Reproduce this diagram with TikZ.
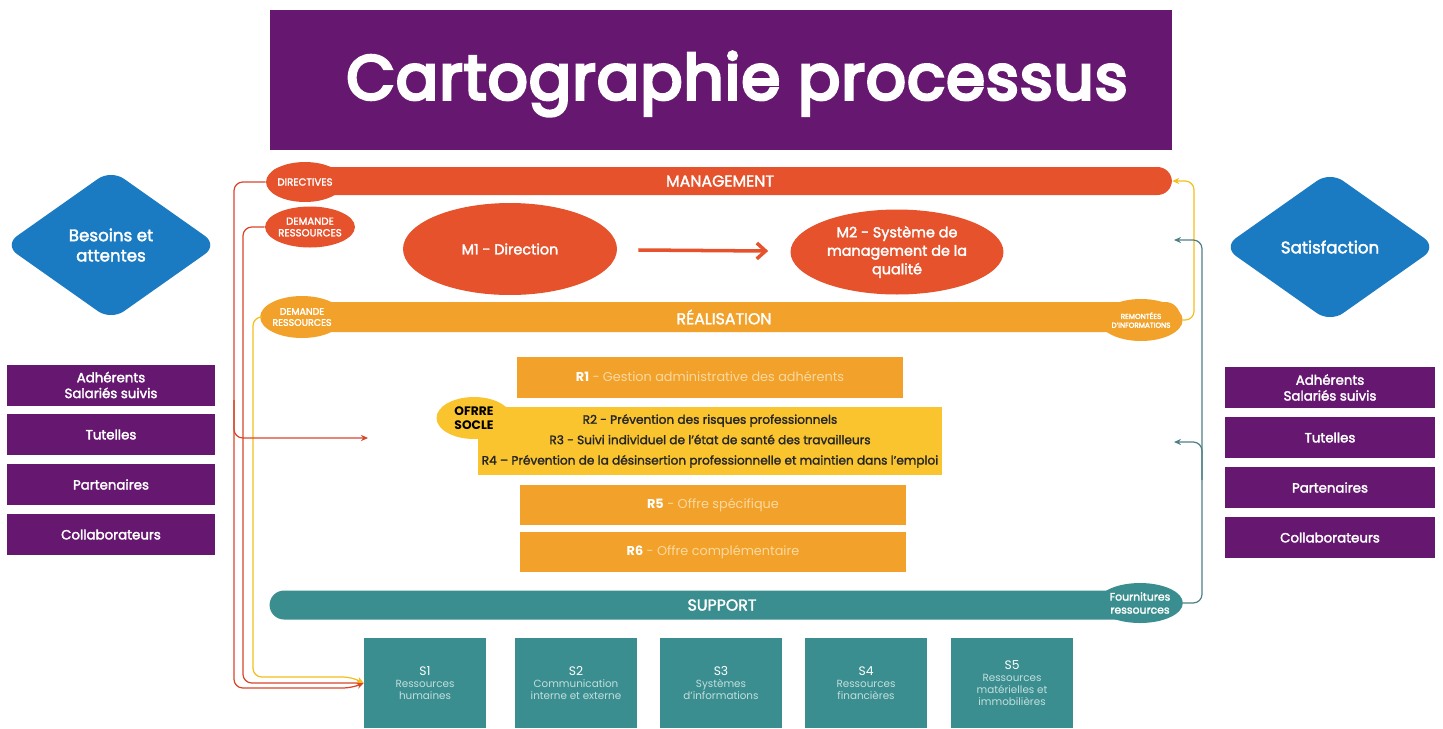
\documentclass[tikz,border=0pt]{standalone}
\usepackage{fontspec}
\setmainfont{Poppins}
\newfontfamily\titlefont{Poppins}[LetterSpace=2]
\usetikzlibrary{shapes.geometric,arrows.meta}

\definecolor{plum}{HTML}{661870}
\definecolor{mgmtred}{HTML}{E5522B}
\definecolor{realorange}{HTML}{F2A22B}
\definecolor{socleyellow}{HTML}{F9C42E}
\definecolor{supteal}{HTML}{3B8E8F}
\definecolor{diamblue}{HTML}{1A7BC3}
\definecolor{lineteal}{HTML}{4F7F85}
\definecolor{lineyellow}{HTML}{F4BE1C}
\definecolor{linered}{HTML}{D8452A}
\definecolor{fadeorange}{HTML}{FAD9A0}
\definecolor{fadeteal}{HTML}{C4DEDE}

\tikzset{
  % letters filled and stroked, a bit heavier than the regular weight
  heavy/.style={execute at begin node={\special{pdf:literal direct 2 Tr #1 w 1 1 1 RG}},
    execute at end node={\special{pdf:literal direct 0 Tr}}},
  heavydark/.style={execute at begin node={\special{pdf:literal direct 2 Tr #1 w 0.15 0.15 0.15 RG}},
    execute at end node={\special{pdf:literal direct 0 Tr}}},
  bar/.style={rounded corners=0.29cm, inner sep=0pt, text=white, heavy=0.18,
    font=\fontsize{9}{10}\selectfont},
  flowtag/.style={ellipse, inner sep=0pt, text=white, align=center, heavy=0.12,
    font=\fontsize{5.8}{6.6}\selectfont},
  proc/.style={ellipse, fill=mgmtred, inner sep=0pt, text=white, align=center, heavy=0.18,
    font=\fontsize{8.2}{10.5}\selectfont},
  rbox/.style={fill=realorange, minimum width=7.74cm, minimum height=0.8cm,
    inner sep=0pt, text=fadeorange, font=\fontsize{7.3}{8}\selectfont},
  sbox/.style={fill=supteal, minimum width=2.44cm, minimum height=1.8cm,
    inner sep=0pt, text=fadeteal, align=center,
    font=\fontsize{5.9}{6.7}\selectfont},
  party/.style={fill=plum, minimum width=4.18cm, minimum height=0.82cm,
    inner sep=0pt, text=white, align=center, heavy=0.18,
    font=\fontsize{7.6}{9}\selectfont},
  pole/.style={diamond, fill=diamblue, minimum width=4.28cm, minimum height=3.02cm,
    inner sep=0pt, rounded corners=9pt, text=white, align=center, heavy=0.22,
    font=\fontsize{9.5}{11.5}\selectfont},
  link/.style={line width=0.7pt, rounded corners=5pt, -{Stealth[length=4pt,width=3.5pt]}},
}

\begin{document}
\begin{tikzpicture}[x=0.02cm,y=-0.02cm]
  \useasboundingbox (0,0) rectangle (1443,728);

  % title box
  \node[fill=plum, minimum width=18.04cm, minimum height=2.8cm, inner sep=0pt] (title) at (721,80) {};

  % the three bands
  \node[bar, fill=mgmtred, minimum width=18.08cm, minimum height=0.56cm] (mgmt) at (720,181) {MANAGEMENT};
  \node[bar, fill=realorange, minimum width=18.24cm, minimum height=0.6cm] (real) at (724,317) {RÉALISATION};
  \node[bar, fill=supteal, minimum width=18.1cm, minimum height=0.58cm] (supp) at (722,605) {SUPPORT};

  % tags on the bands
  \node[flowtag, fill=mgmtred, minimum width=1.56cm, minimum height=0.8cm] (dir) at (305,182) {DIRECTIVES};
  \node[flowtag, fill=mgmtred, minimum width=1.76cm, minimum height=0.82cm] (dreq) at (310,227) {DEMANDE\\RESSOURCES};
  \node[flowtag, fill=realorange, minimum width=1.6cm, minimum height=0.84cm,
    font=\fontsize{5.4}{6.3}\selectfont] (dreqr) at (302,317) {DEMANDE\\RESSOURCES};
  \node[flowtag, fill=realorange, minimum width=1.6cm, minimum height=0.84cm,
    font=\fontsize{4.1}{5}\selectfont] (remo) at (1141,320) {REMONTÉES\\D'INFORMATIONS};
  \node[flowtag, fill=supteal, minimum width=1.62cm, minimum height=0.8cm,
    font=\fontsize{6.2}{7.4}\selectfont] (four) at (1140,603) {Fournitures\\ressources};

  % management processes
  \node[proc, minimum width=4.28cm, minimum height=1.84cm] (m1) at (510,249) {M1 - Direction};
  \node[proc, minimum width=4.26cm, minimum height=1.7cm] (m2) at (897,252)
    {M2 - Système de\\management  de la\\qualité};
  \draw[mgmtred, line width=2pt, shorten <=0.42cm, shorten >=0.44cm,
    -{Straight Barb[length=5pt,width=9pt]}] (m1) -- (m2);

  % realisation processes
  \node[rbox, minimum height=0.82cm] (r1) at (710,377)
    {\textcolor{white}{\bfseries R1} - Gestion administrative des adhérents};
  \node[fill=socleyellow, minimum width=9.28cm, minimum height=1.36cm, inner sep=0pt,
    align=center, text=black!85, heavydark=0.12, font=\fontsize{6.9}{11.6}\selectfont] (r24) at (710,441)
    {R2 - Prévention des risques professionnels\\
     R3 - Suivi individuel de l'état de santé des travailleurs\\
     R4 – Prévention de la désinsertion professionnelle et maintien dans l'emploi};
  \node[ellipse, fill=socleyellow, minimum width=1.5cm, minimum height=0.84cm, inner sep=0pt,
    align=center, font=\fontsize{7}{8}\selectfont\bfseries] (socle) at (474,418)
    {OFRRE\\SOCLE};
  \node[rbox] (r5) at (713,505) {\textcolor{white}{\bfseries R5} - Offre spécifique};
  \node[rbox] (r6) at (713,552) {\textcolor{white}{\bfseries R6} - Offre complémentaire};

  % support processes
  \node[sbox] (s1) at (425,683) {\textcolor{white}{\fontsize{7}{8}\selectfont S1}\\Ressources\\humaines};
  \node[sbox] (s2) at (576,683) {\textcolor{white}{\fontsize{7}{8}\selectfont S2}\\Communication\\interne et externe};
  \node[sbox] (s3) at (721,683) {\textcolor{white}{\fontsize{7}{8}\selectfont S3}\\Systèmes\\d'informations};
  \node[sbox] (s4) at (866,683) {\textcolor{white}{\fontsize{7}{8}\selectfont S4}\\Ressources\\financières};
  \node[sbox] (s5) at (1012,683) {\textcolor{white}{\fontsize{7}{8}\selectfont S5}\\Ressources\\matérielles et\\immobilières};

  % interested parties, left
  \node[pole] (needs) at (111,245) {Besoins et\\attentes};
  \node[party] (adhl) at (111,385) {Adhérents\\Salariés suivis};
  \node[party] (tutl) at (111,434.5) {Tutelles};
  \node[party] (partl) at (111,484.5) {Partenaires};
  \node[party] (coll) at (111,534.5) {Collaborateurs};

  % interested parties, right
  \node[pole] (satis) at (1330,247) {Satisfaction};
  \node[party, minimum width=4.22cm] (adhr) at (1330,387.5) {Adhérents\\Salariés suivis};
  \node[party, minimum width=4.22cm] (tutr) at (1330,437.5) {Tutelles};
  \node[party, minimum width=4.22cm] (partr) at (1330,487.5) {Partenaires};
  \node[party, minimum width=4.22cm] (colr) at (1330,537.5) {Collaborateurs};

  % loose ends of the links
  \coordinate (realin) at (368,438);
  \coordinate (mgin) at (1174,240);
  \coordinate (rlin) at (1174,442);

  % links on the left, down to S1
  \draw[link, linered] (dir.west) -- (234,182) -- (234,688) -- (352,688) -- (s1.west);
  \draw[link, linered] (dreq.west) -- (243,227) -- (243,683) -- (s1.west);
  \draw[link, lineyellow] (dreqr.west) -- (253,317) -- (253,677) -- (352,677) -- (s1.west);
  \draw[link, linered] (234,400) -- (234,438) -- (realin);

  % links on the right
  \draw[link, lineyellow] (remo.east) -- (1194,320) -- (1194,181) -- (mgmt.east);
  \draw[link, lineteal] (four.east) -- (1202,603) -- (1202,240) -- (mgin);
  \draw[link, lineteal] (1202,480) -- (1202,442) -- (rlin);

  % title text last
  \node[text=white, inner sep=0pt, heavy=1.8, font=\titlefont\fontsize{35.5}{40}\selectfont]
    (titletext) at (737,84) {Cartographie processus};
\end{tikzpicture}
\end{document}
